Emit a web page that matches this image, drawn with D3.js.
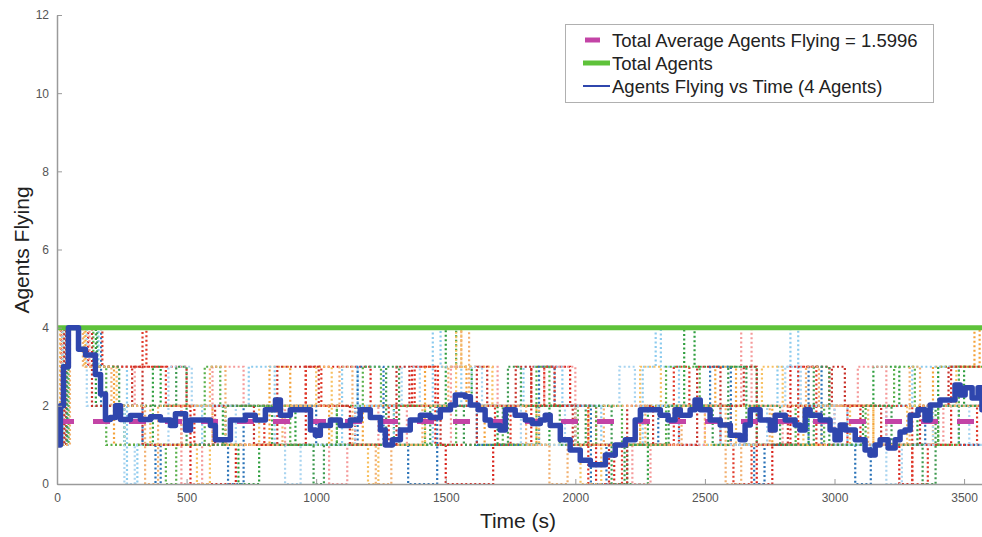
<!DOCTYPE html>
<html>
<head>
<meta charset="utf-8">
<script src="https://cdn.jsdelivr.net/npm/d3@7"></script>
<style>
  body { margin: 0; background: #fff; }
  svg { display: block; font-family: "Liberation Sans", Arial, sans-serif; }
</style>
</head>
<body>
<svg id="chart" width="982" height="537"></svg>
<script>
// time ticks and agent ticks
let xTicks = [0, 500, 1000, 1500, 2000, 2500, 3000, 3500];
let yTicks = [0, 2, 4, 6, 8, 10, 12];

let totalAgents = 4;
let avgFlying = 1.5996;

// agents flying vs time (mean of runs), [time, value]
let meanTime = [0, 13, 25, 44, 83, 110, 129, 148, 168, 187, 206, 226, 245, 283, 322, 361, 399, 438, 457,
    496, 515, 553, 592, 611, 650, 669, 708, 727, 765, 804, 843, 862, 900, 939, 978, 997, 1016, 1055,
    1093, 1132, 1170, 1209, 1248, 1267, 1294, 1325, 1363, 1402, 1440, 1479, 1518, 1537, 1575, 1595,
    1625, 1652, 1672, 1710, 1730, 1768, 1807, 1834, 1865, 1884, 1903, 1942, 1980, 2019, 2058, 2096,
    2116, 2154, 2193, 2231, 2251, 2289, 2328, 2358, 2385, 2405, 2443, 2462, 2482, 2520, 2559, 2598,
    2636, 2655, 2675, 2713, 2752, 2771, 2810, 2848, 2867, 2887, 2906, 2945, 2983, 3002, 3022, 3041,
    3080, 3118, 3137, 3157, 3176, 3207, 3234, 3253, 3272, 3292, 3322, 3349, 3369, 3407, 3446, 3465,
    3485, 3504, 3531, 3554, 3569, 3600];
let meanValue = [1.0, 2.0, 3.0, 4.0, 3.45, 3.3, 3.3, 2.8, 2.3, 1.65, 1.7, 2.0, 1.65, 1.75, 1.65, 1.72, 1.64, 1.5, 1.8,
    1.38, 1.64, 1.64, 1.5, 1.13, 1.13, 1.64, 1.64, 1.76, 1.64, 1.9, 2.15, 1.76, 1.9, 1.9, 1.38, 1.25, 1.5,
    1.64, 1.5, 1.64, 1.9, 1.7, 1.38, 1.0, 1.13, 1.38, 1.64, 1.76, 1.7, 1.9, 2.02, 2.28, 2.23, 2.02,
    1.9, 1.64, 1.5, 1.38, 1.9, 1.76, 1.64, 1.55, 1.64, 1.76, 1.5, 1.13, 0.87, 0.61, 0.49, 0.49,
    0.74, 1.0, 1.13, 1.64, 1.9, 1.9, 1.76, 1.64, 1.9, 1.76, 1.9, 2.15, 1.9, 1.64, 1.51, 1.25,
    1.13, 1.51, 1.9, 1.64, 1.38, 1.76, 1.64, 1.51, 1.38, 1.9, 1.76, 1.64, 1.38, 1.13, 1.51, 1.38,
    1.13, 0.87, 0.74, 1.0, 1.13, 0.92, 1.13, 1.33, 1.38, 1.76, 1.9, 1.64, 2.02, 2.15, 2.15, 2.53,
    2.28, 2.46, 2.2, 2.46, 1.9, 1.9];

// individual runs, dotted, [time, agents]
let run1 = [[0,1],[15,4],[120,3],[500,2],[515,0],[690,1],[960,3],[1210,2],[1370,3],[1460,1],[1500,0],[1683,1],[1830,3],[1980,2],[2080,0],[2150,1],[2400,2],[2600,1],[2700,0],[2760,1],[2830,3],[2980,2],[3100,1],[3250,0],[3300,1],[3450,3],[3600,2]];
let run2 = [[0,1],[20,4],[150,2],[260,1],[370,3],[400,2],[640,1],[700,0],[780,1],[920,2],[1080,1],[1300,2],[1500,4],[1540,3],[1600,2],[1700,1],[1900,2],[2000,1],[2200,0],[2280,2],[2420,4],[2460,3],[2700,1],[2900,2],[3150,3],[3250,2],[3320,1],[3400,3],[3500,2],[3600,2]];
let run3 = [[0,1],[25,4],[110,3],[220,1],[480,2],[600,1],[820,3],[900,2],[1050,1],[1180,2],[1420,3],[1580,2],[1650,1],[1850,2],[2050,1],[2250,2],[2540,3],[2620,2],[2760,1],[2950,2],[3150,1],[3380,3],[3540,4],[3560,3],[3600,3]];
let run4 = [[0,1],[30,4],[160,3],[270,0],[310,1],[560,2],[740,3],[840,1],[1100,3],[1160,2],[1300,1],[1450,4],[1480,3],[1560,2],[1800,3],[1950,2],[2100,1],[2260,3],[2310,4],[2330,3],[2400,1],[2560,2],[2780,3],[2830,4],[2860,2],[3050,1],[3200,2],[3300,3],[3480,2],[3600,1]];
let run5 = [[0,1],[40,4],[170,2],[330,1],[380,0],[400,1],[660,0],[720,2],[1000,1],[1160,3],[1260,1],[1355,0],[1467,2],[1620,1],[1860,3],[1920,2],[2060,0],[2120,1],[2320,2],[2520,3],[2600,1],[2690,0],[2730,1],[2900,3],[2950,1],[3080,0],[3140,1],[3350,2],[3480,1],[3600,1]];
let run6 = [[0,1],[18,4],[125,3],[300,2],[480,0],[560,1],[600,3],[720,2],[880,1],[1050,0],[1120,1],[1240,2],[1350,1],[1520,3],[1700,2],[1880,3],[2000,1],[2220,0],[2290,1],[2500,2],[2640,4],[2680,2],[2800,1],[3000,2],[3090,3],[3200,1],[3420,2],[3600,2]];
let run7 = [[0,1],[35,4],[175,3],[330,4],[345,3],[420,2],[530,1],[800,2],[960,3],[1020,2],[1150,1],[1280,2],[1380,3],[1470,2],[1690,1],[1750,2],[1880,3],[1920,2],[2050,0],[2180,1],[2380,3],[2440,2],[2560,1],[2610,0],[2680,1],[2860,3],[2930,1],[3050,2],[3300,0],[3360,1],[3550,2],[3600,2]];
let run8 = [[0,1],[45,4],[140,3],[190,1],[420,0],[460,1],[570,3],[630,2],[900,1],[1080,2],[1180,3],[1250,2],[1420,1],[1540,2],[1720,1],[1850,3],[1900,2],[2010,1],[2080,2],[2180,1],[2350,3],[2480,2],[2660,1],[2850,2],[2960,1],[3120,2],[3230,3],[3310,2],[3400,1],[3480,3],[3600,3]];
let run9 = [[0,1],[12,4],[105,3],[230,2],[360,1],[540,0],[590,1],[780,2],[1000,3],[1060,1],[1200,0],[1240,1],[1420,2],[1540,4],[1560,3],[1680,2],[1860,1],[2020,0],[2100,1],[2250,3],[2330,2],[2500,1],[2620,2],[2720,3],[2800,2],[2880,1],[3060,2],[3150,1],[3280,2],[3470,3],[3600,3]];
let run10 = [[0,1],[22,4],[115,2],[260,0],[300,1],[430,3],[520,2],[690,1],[880,0],[940,1],[1150,2],[1330,3],[1400,2],[1600,3],[1640,2],[1790,1],[1960,2],[2170,3],[2230,2],[2560,1],[2740,2],[2810,3],[2870,2],[3000,1],[3200,0],[3260,1],[3380,2],[3520,1],[3600,1]];
let run11 = [[0,1],[28,4],[135,2],[290,3],[330,1],[610,2],[760,1],[850,3],[1010,2],[1130,1],[1310,3],[1360,2],[1480,1],[1620,3],[1660,2],[1770,3],[1830,2],[1990,1],[2130,0],[2200,2],[2300,1],[2470,3],[2560,2],[2650,3],[2700,1],[2820,2],[2990,3],[3040,2],[3180,1],[3330,2],[3440,3],[3600,3]];
let run12 = [[0,1],[38,4],[155,3],[240,2],[460,3],[500,1],[650,2],[830,1],[990,0],[1030,1],[1270,3],[1320,1],[1440,2],[1570,1],[1740,3],[1790,2],[1940,1],[2040,2],[2140,0],[2190,1],[2360,2],[2530,1],[2590,3],[2660,2],[2790,1],[2920,3],[2980,1],[3110,2],[3220,1],[3340,0],[3390,2],[3600,2]];
let run13 = [[0,1],[50,4],[100,3],[210,2],[340,0],[390,2],[590,3],[650,1],[870,2],[1090,3],[1140,1],[1230,0],[1290,1],[1410,2],[1510,3],[1560,4],[1590,2],[1810,1],[1900,0],[1970,1],[2110,2],[2270,1],[2410,2],[2580,0],[2640,1],[2750,2],[2890,3],[2940,2],[3130,1],[3290,3],[3330,2],[3600,2]];

let runs = [run1, run2, run3, run4, run5, run6, run7, run8, run9, run10, run11, run12, run13];
let runColors = ["#d9241c", "#2e9e3e", "#f4a23a", "#8ccbee", "#2a73b8", "#f59a9a", "#e03a2a",
    "#58b04a", "#f7c060", "#a8d4f0", "#c8322a", "#3f9a50", "#f2b070"];

let svg = d3.select('#chart');
let x = d3.scaleLinear().domain([0, 3600]).range([57, 990]);
let y = d3.scaleLinear().domain([0, 12]).range([484, 15]);

let gPlot = svg.append('g');
gPlot.append('clipPath').attr('id', 'clip')
    .append('rect').attr('x', 57).attr('y', 10).attr('width', 933).attr('height', 476);

let stepLine = d3.line()
    .x(function(d) { return x(d[0]); })
    .y(function(d) { return y(d[1]); })
    .curve(d3.curveStepAfter);

// dotted runs
gPlot.append('g').attr('clip-path', 'url(#clip)')
    .selectAll('path')
    .data(runs)
    .enter().append('path')
    .attr('d', stepLine)
    .attr('fill', 'none')
    .attr('stroke', function(d, i) { return runColors[i]; })
    .attr('stroke-width', 2.2)
    .attr('stroke-dasharray', '2,2.5');

// axes
let yAxis = d3.axisLeft(y).tickValues(yTicks).tickSizeInner(-5).tickSizeOuter(0).tickPadding(8);
let xAxis = d3.axisBottom(x).tickValues(xTicks).tickFormat(d3.format('d'))
    .tickSizeInner(-5).tickSizeOuter(0).tickPadding(9);

let gy = svg.append('g').attr('transform', 'translate(57,0)').call(yAxis);
let gx = svg.append('g').attr('transform', 'translate(0,484)').call(xAxis);
[gx, gy].forEach(function(g) {
    g.select('.domain').attr('stroke', '#9a9a9a').attr('stroke-width', 1.5);
    g.selectAll('.tick line').attr('stroke', '#9a9a9a');
    g.selectAll('.tick text').attr('fill', '#555').style('font-size', '12px')
        .style('font-family', '"Liberation Sans", Arial, sans-serif');
});

// total agents
gPlot.append('line')
    .attr('x1', x(0)).attr('x2', x(3600))
    .attr('y1', y(totalAgents)).attr('y2', y(totalAgents))
    .attr('stroke', '#5ec23a').attr('stroke-width', 5);

// total average
gPlot.append('line')
    .attr('x1', x(0)).attr('x2', x(3600))
    .attr('y1', y(avgFlying)).attr('y2', y(avgFlying))
    .attr('stroke', '#c344a6').attr('stroke-width', 5)
    .attr('stroke-dasharray', '17,19');

// mean flying
let meanData = meanTime.map(function(t, i) { return [t, meanValue[i]]; });
gPlot.append('path')
    .datum(meanData)
    .attr('clip-path', 'url(#clip)')
    .attr('d', stepLine)
    .attr('fill', 'none')
    .attr('stroke', '#2f46ad')
    .attr('stroke-width', 5.5)
    .attr('stroke-linejoin', 'round');

// axis labels
svg.append('text')
    .attr('transform', 'translate(29,250) rotate(-90)')
    .attr('text-anchor', 'middle')
    .style('font-size', '21px').attr('fill', '#222')
    .text('Agents Flying');

svg.append('text')
    .attr('x', 518).attr('y', 528)
    .attr('text-anchor', 'middle')
    .style('font-size', '21px').attr('fill', '#222')
    .text('Time (s)');

// legend
let legend = svg.append('g');
legend.append('rect')
    .attr('x', 565.5).attr('y', 24.5).attr('width', 368).attr('height', 78)
    .attr('fill', '#fff').attr('stroke', '#b0b0b0');

let legendItems = [
    {label: 'Total Average Agents Flying = ' + avgFlying, color: '#c344a6', width: 5, x1: 585, x2: 600},
    {label: 'Total Agents', color: '#5ec23a', width: 5, x1: 583, x2: 610},
    {label: 'Agents Flying vs Time (4 Agents)', color: '#2f46ad', width: 2, x1: 583, x2: 610}
];
let row = legend.selectAll('.row')
    .data(legendItems)
    .enter().append('g')
    .attr('transform', function(d, i) { return 'translate(0,' + (40 + i * 23) + ')'; });
row.append('line')
    .attr('x1', function(d) { return d.x1; })
    .attr('x2', function(d) { return d.x2; })
    .attr('stroke', function(d) { return d.color; })
    .attr('stroke-width', function(d) { return d.width; });
row.append('text')
    .attr('x', 612).attr('y', 6.5)
    .style('font-size', '18.5px').attr('fill', '#222')
    .text(function(d) { return d.label; });
</script>
</body>
</html>
